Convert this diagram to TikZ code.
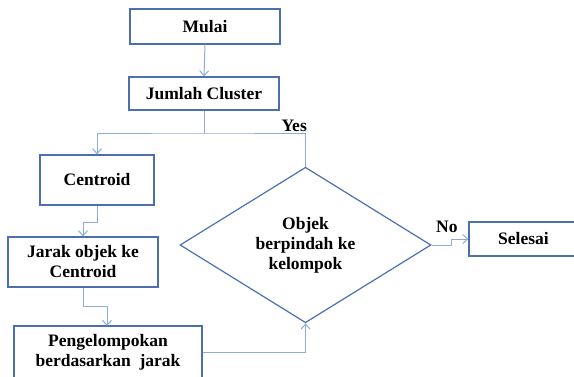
\documentclass[tikz,border=0pt]{standalone}
\usepackage{fontspec}
\setmainfont{Liberation Serif}
\usetikzlibrary{shapes.geometric,arrows.meta}
\definecolor{boxblue}{HTML}{4C6FAE}
\definecolor{arrowblue}{HTML}{8EAADB}
\tikzset{
  box/.style={draw=boxblue, line width=1.2pt, rectangle, inner sep=0pt, align=center,
    font=\fontsize{17.5}{20}\selectfont\bfseries},
  decision/.style={draw=boxblue, line width=1.2pt, diamond, inner sep=0pt, align=center,
    font=\fontsize{17.5}{20}\selectfont\bfseries},
  conn/.style={draw=arrowblue, line width=1pt},
  arr/.style={conn, -{Straight Barb[length=5pt,width=9pt]}},
  lbl/.style={font=\fontsize{17.5}{20}\selectfont\bfseries, inner sep=0pt},
}
\begin{document}
\begin{tikzpicture}[x=1pt,y=-1pt]
\useasboundingbox (0,0) rectangle (574,376);
\node[box, minimum width=150pt, minimum height=35pt] (mulai) at (205,26.5) {Mulai};
\node[box, minimum width=150pt, minimum height=33pt] (jumlah) at (204,93.5) {Jumlah Cluster};
\node[box, minimum width=114pt, minimum height=50pt] (centroid) at (97,180) {Centroid};
\node[box, minimum width=150pt, minimum height=50pt] (jarak) at (83,262) {Jarak objek ke\\Centroid};
\node[box, minimum width=188pt, minimum height=52pt] (kelompok) at (108,352) {Pengelompokan\\berdasarkan\ \ jarak};
\node[decision, minimum width=251pt, minimum height=145pt] (cek) at (305.5,245) {Objek\\berpindah ke\\kelompok};
\node[box, minimum width=109pt, minimum height=34pt] (selesai) at (523.5,239) {Selesai};

\coordinate (split) at (204,133);
\coordinate (j1) at (97,222);
\coordinate (j2) at (83,306);
\coordinate (n1) at (451,245);

\draw[arr] (mulai.south) -- (jumlah.north);
\draw[conn] (jumlah.south) -- (split);
\draw[arr] (cek.north) |- (split) -| (centroid.north);
\draw[arr] (centroid.south) |- (83,222) -- (jarak.north);
\draw[arr] (jarak.south) |- (107,306) -- (107,326);
\draw[arr] (kelompok.east) -| (cek.south);
\draw[arr] (cek.east) -- (n1) |- (selesai.west);

\node[lbl, anchor=south east] (yes) at (307,132) {Yes};
\node[lbl, anchor=south west] (no) at (436,233) {No};
\end{tikzpicture}
\end{document}
